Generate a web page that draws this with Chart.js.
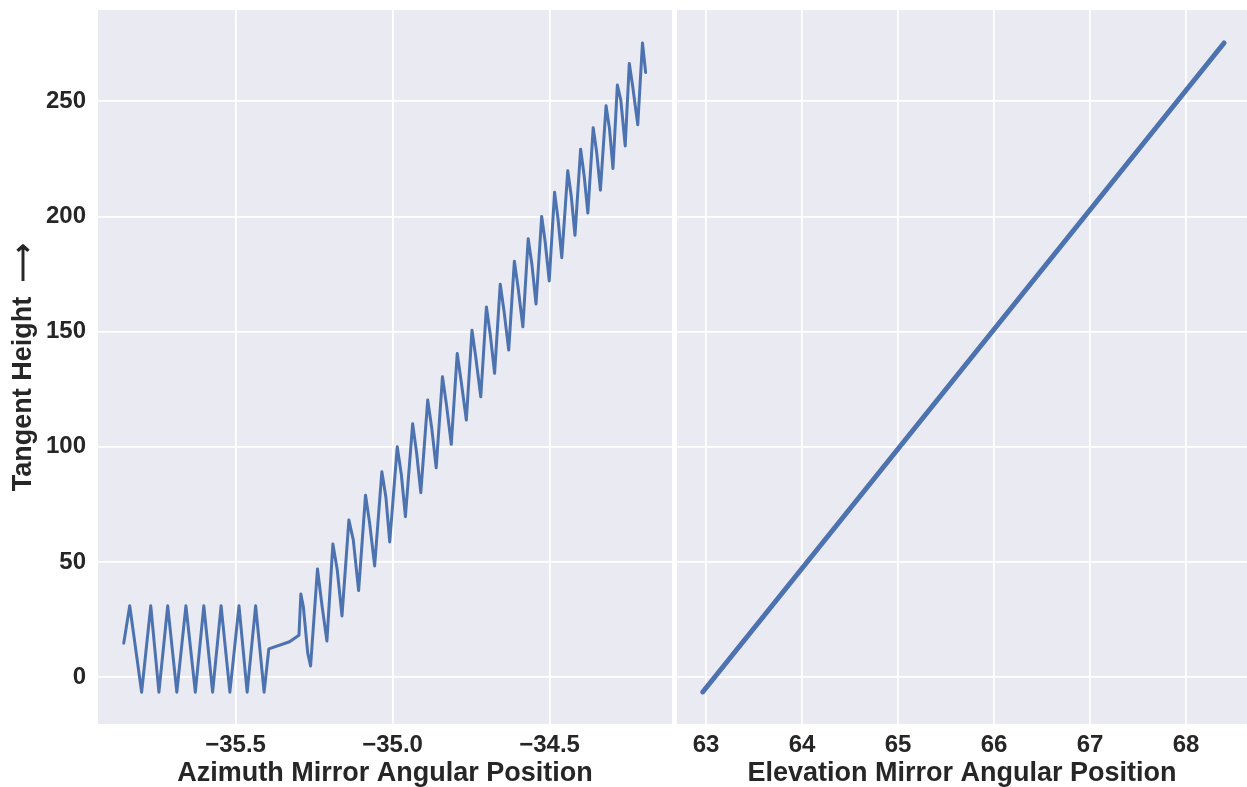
<!DOCTYPE html>
<html>
<head>
<meta charset="utf-8">
<title>Tangent height vs mirror angular position</title>
<script src="https://cdn.jsdelivr.net/npm/chart.js@4/dist/chart.umd.min.js"></script>
<style>
  html, body { margin:0; padding:0; background:#fff; }
  #wrap { position:relative; width:1247px; height:787px; overflow:hidden; }
  #az { position:absolute; left:0; top:0; }
  #el { position:absolute; left:677px; top:0; }
</style>
</head>
<body>
<div id="wrap">
  <canvas id="az" width="672" height="787"></canvas>
  <canvas id="el" width="570" height="787"></canvas>
</div>
<script>
// azimuth mirror position vs tangent height (left panel)
const azimuth = [
  -35.856, -35.837, -35.799, -35.770, -35.744, -35.716, -35.687, -35.658, -35.628,
  -35.601, -35.573, -35.546, -35.518, -35.489, -35.463, -35.436, -35.409,
  -35.394, -35.328, -35.298,
  -35.292, -35.284, -35.270, -35.261,
  -35.239, -35.224, -35.209,
  -35.190, -35.176, -35.161,
  -35.139, -35.125, -35.108,
  -35.086, -35.073, -35.057,
  -35.034, -35.021, -35.009,
  -34.985, -34.972, -34.959,
  -34.936, -34.923, -34.910,
  -34.888, -34.875, -34.861,
  -34.841, -34.828, -34.813,
  -34.794, -34.781, -34.765,
  -34.747, -34.735, -34.719,
  -34.701, -34.689, -34.675,
  -34.657, -34.645, -34.630,
  -34.612, -34.600, -34.585,
  -34.568, -34.556, -34.543,
  -34.525, -34.514, -34.501,
  -34.484, -34.473, -34.461,
  -34.442, -34.431, -34.419,
  -34.401, -34.390, -34.378,
  -34.361, -34.350, -34.338,
  -34.320, -34.309, -34.298,
  -34.284, -34.273, -34.259,
  -34.246, -34.235, -34.219,
  -34.204, -34.194
];
const heightAz = [
  14.8, 31.0, -6.5, 31.0, -6.5, 31.0, -6.5, 31.0, -6.5,
  31.0, -6.5, 31.0, -6.5, 31.0, -6.5, 31.0, -6.5,
  12.3, 15.4, 18.2,
  36.1, 30.6, 10.4, 4.9,
  47.0, 30.4, 15.7,
  57.8, 46.5, 26.6,
  68.2, 59.6, 37.6,
  79.0, 67.0, 48.3,
  89.2, 78.0, 58.7,
  100.0, 88.0, 69.7,
  110.0, 97.0, 80.1,
  120.3, 108.0, 90.9,
  130.4, 118.0, 101.1,
  140.5, 128.0, 111.6,
  150.6, 139.0, 121.7,
  160.7, 149.0, 131.9,
  170.6, 159.0, 142.0,
  180.6, 169.0, 152.1,
  190.3, 179.0, 162.0,
  200.0, 189.0, 172.0,
  210.5, 199.0, 182.1,
  219.8, 209.0, 191.8,
  229.2, 218.0, 201.5,
  238.5, 228.0, 211.4,
  248.0, 238.0, 220.8,
  257.0, 250.5, 230.6,
  266.4, 256.3, 239.8,
  275.3, 262.5
];

// elevation mirror position vs tangent height (right panel)
const elevation = [62.966, 68.396];
const heightEl = [-6.4, 275.3];

const azTicks = [-35.5, -35.0, -34.5];
const elTicks = [63, 64, 65, 66, 67, 68];
const heightTicks = [0, 50, 100, 150, 200, 250];

const FONT = '"Liberation Sans", Arial, sans-serif';
const INK = '#262626';
const LINE = '#4C72B0';

const bgPlugin = {
  id: 'bg',
  beforeDraw(c){
    const {ctx, chartArea:a} = c;
    ctx.save();
    ctx.fillStyle = '#EAEAF2';
    ctx.fillRect(a.left, a.top, a.right - a.left, a.bottom - a.top);
    ctx.restore();
  }
};

const pts = (xs, ys) => xs.map((x,i)=>({x, y: ys[i]}));
const minus = v => (v < 0 ? '\u2212' : '') + Math.abs(v).toFixed(1);

function xAxis(min, max, ticks, fmt, title){
  return {
    type:'linear', position:'bottom', min, max,
    afterBuildTicks: s => { s.ticks = ticks.map(v=>({value:v})); },
    afterFit: s => { s.height = 63; s.paddingLeft = 0; s.paddingRight = 0; },
    grid:{ color:'#fff', lineWidth:1.8, drawTicks:false },
    border:{ display:false },
    ticks:{ color:INK, padding:9, maxRotation:0, font:{ family:FONT, size:24, weight:'bold', lineHeight:1 }, callback: fmt },
    title:{ display:true, text:title, color:INK, padding:{top:0, bottom:0}, font:{ family:FONT, size:27, weight:'bold', lineHeight:1 } }
  };
}

function yAxis(showLabels){
  return {
    type:'linear', position:'left', min:-20.3, max:289.6,
    afterBuildTicks: s => { s.ticks = heightTicks.map(v=>({value:v})); },
    afterFit: s => { s.width = showLabels ? 98 : 0; s.paddingTop = 0; s.paddingBottom = 0; },
    grid:{ color:'#fff', lineWidth:1.8, drawTicks:false },
    border:{ display:false },
    ticks:{ display:showLabels, color:INK, padding:12, font:{ family:FONT, size:24, weight:'bold', lineHeight:1 } },
    title:{ display:showLabels, text:'Tangent Height  \u27F6', color:INK, padding:{top:10, bottom:0}, font:{ family:FONT, size:27, weight:'bold', lineHeight:1 } }
  };
}

function makeChart(id, data, width, x, y){
  return new Chart(document.getElementById(id), {
    type:'scatter',
    data:{ datasets:[{ data, showLine:true, borderColor:LINE, backgroundColor:LINE, borderWidth:width,
      borderJoinStyle:'round', borderCapStyle:'round', pointRadius:0, tension:0 }] },
    options:{
      responsive:false, animation:false, devicePixelRatio:1,
      layout:{ padding:{ top:10, left:0, right:0, bottom:0 } },
      plugins:{ legend:{ display:false }, tooltip:{ enabled:false } },
      scales:{ x, y }
    },
    plugins:[bgPlugin]
  });
}

makeChart('az', pts(azimuth, heightAz), 3,
  xAxis(-35.938, -34.110, azTicks, minus, 'Azimuth Mirror Angular Position'), yAxis(true));
makeChart('el', pts(elevation, heightEl), 5,
  xAxis(62.698, 68.635, elTicks, v => String(v), 'Elevation Mirror Angular Position'), yAxis(false));
</script>
</body>
</html>
